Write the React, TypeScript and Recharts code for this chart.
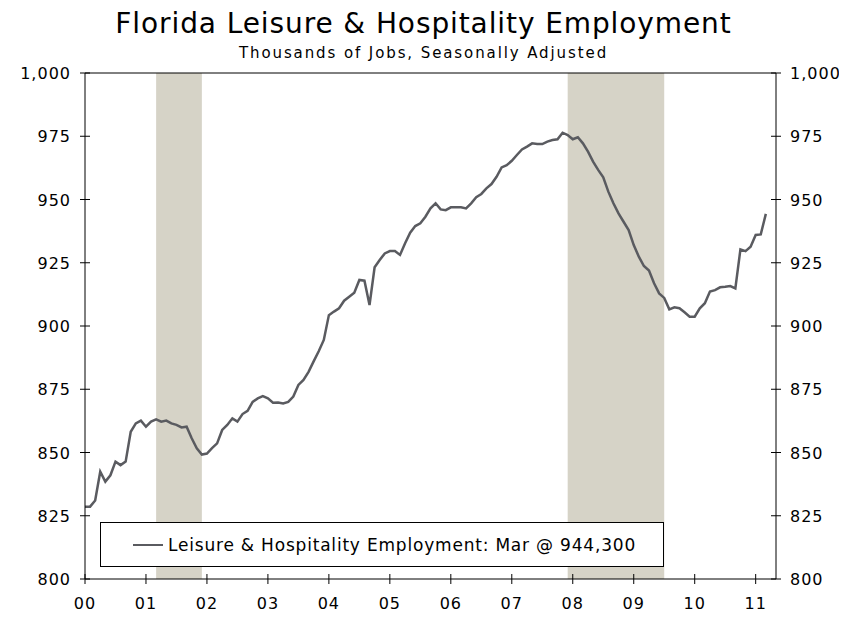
import { LineChart, Line, XAxis, YAxis, ReferenceArea, ReferenceLine } from "recharts";

// Monthly, Jan 2000 .. Mar 2011 (thousands of jobs, SA)
const START_YEAR = 2000;
const employment = [
  828.6, 828.6, 831.0, 842.4, 838.5, 841.0, 846.4, 845.0, 846.4, 858.2, 861.5, 862.6,
  860.2, 862.2, 863.1, 862.2, 862.6, 861.5, 860.9, 859.9, 860.2, 855.6, 851.7, 849.2,
  849.6, 851.7, 853.6, 858.9, 860.9, 863.5, 862.2, 865.2, 866.5, 870.0, 871.4, 872.3,
  871.4, 869.7, 869.8, 869.4, 870.0, 872.1, 876.7, 878.7, 881.9, 886.0, 890.0, 894.5,
  904.3, 905.7, 907.0, 910.0, 911.6, 913.2, 918.2, 917.9, 908.3, 923.2, 926.1, 928.7,
  929.6, 929.6, 928.1, 932.7, 936.9, 939.5, 940.6, 943.2, 946.5, 948.5, 946.1, 945.8,
  946.9, 946.9, 946.9, 946.5, 948.5, 950.9, 952.2, 954.4, 956.1, 959.0, 962.7, 963.6,
  965.3, 967.6, 969.8, 970.9, 972.2, 971.9, 971.9, 972.9, 973.5, 973.8, 976.4, 975.5,
  973.8, 974.6, 972.2, 968.9, 965.0, 961.7, 958.8, 953.1, 948.5, 944.5, 941.2, 937.9,
  932.0, 927.4, 923.7, 921.9, 916.9, 912.9, 911.1, 906.6, 907.4, 907.0, 905.4, 903.7,
  903.7, 907.0, 909.0, 913.6, 914.2, 915.3, 915.5, 915.8, 914.9, 930.3, 929.6, 931.3,
  936.0, 936.2, 944.3,
];

const yearLabels = ["00", "01", "02", "03", "04", "05", "06", "07", "08", "09", "10", "11"];
const yTicks = [800, 825, 850, 875, 900, 925, 950, 975, 1000];

// recessions as month indexes from Jan 2000 [start, end]
const recessionStart = [14, 95];
const recessionEnd = [23, 114];

const chartData = employment.map((value, i) => ({
  t: i,
  month: `${START_YEAR + Math.floor(i / 12)}-${String((i % 12) + 1).padStart(2, "0")}`,
  value,
}));

const FONT = "'DejaVu Sans', Verdana, sans-serif";
const LINE_COLOR = "#5a5b60";
const TICK_SIZE = 5;
const TICK_MARGIN = 9;

const fmtY = (v: number) => v.toLocaleString("en-US");

// ticks that cross the axis line, like the original
// eslint-disable-next-line @typescript-eslint/no-explicit-any
function LeftTick(props: any) {
  const { x, y, payload } = props;
  const outer = x + TICK_MARGIN;
  return (
    <g>
      <line x1={outer} x2={outer + 2 * TICK_SIZE} y1={y} y2={y} stroke="#000" />
      <text x={x} y={y} dy={6} textAnchor="end" fontSize={16} letterSpacing={1} fontFamily={FONT} fill="#000">
        {fmtY(payload.value)}
      </text>
    </g>
  );
}

// eslint-disable-next-line @typescript-eslint/no-explicit-any
function RightTick(props: any) {
  const { x, y, payload } = props;
  const outer = x - TICK_MARGIN;
  return (
    <g>
      <line x1={outer} x2={outer - 2 * TICK_SIZE} y1={y} y2={y} stroke="#000" />
      <text x={x} y={y} dy={6} textAnchor="start" fontSize={16} letterSpacing={1} fontFamily={FONT} fill="#000">
        {fmtY(payload.value)}
      </text>
    </g>
  );
}

// eslint-disable-next-line @typescript-eslint/no-explicit-any
function BottomTick(props: any) {
  const { x, y, payload } = props;
  const outer = y - TICK_MARGIN;
  return (
    <g>
      <line x1={x} x2={x} y1={outer} y2={outer - 2 * TICK_SIZE} stroke="#000" />
      <text x={x} y={y} dy={16} textAnchor="middle" fontSize={16} letterSpacing={1} fontFamily={FONT} fill="#000">
        {yearLabels[Math.round(payload.value / 12)]}
      </text>
    </g>
  );
}

export default function App() {
  const last = chartData[chartData.length - 1];
  return (
    <div style={{ position: "relative", width: 839, height: 604, fontFamily: FONT }}>
      <div
        style={{
          position: "absolute",
          left: 0,
          width: 831,
          top: 0,
          textAlign: "center",
          fontSize: 28,
          letterSpacing: 0.9,
          lineHeight: "32px",
          color: "#000",
        }}
      >
        Florida Leisure &amp; Hospitality Employment
      </div>
      <div
        style={{
          position: "absolute",
          left: 0,
          width: 831,
          top: 37,
          textAlign: "center",
          fontSize: 15,
          letterSpacing: 1.9,
          lineHeight: "17px",
          color: "#000",
        }}
      >
        Thousands of Jobs, Seasonally Adjusted
      </div>
      <LineChart
        width={839}
        height={604}
        data={chartData}
        margin={{ top: 65, right: 1, left: 0, bottom: 3 }}
      >
        {recessionStart.map((s, i) => (
          <ReferenceArea
            key={s}
            yAxisId="left"
            x1={s}
            x2={recessionEnd[i]}
            y1={800}
            y2={1000}
            fill="#d6d3c7"
            fillOpacity={1}
            stroke="none"
          />
        ))}
        <ReferenceLine yAxisId="left" y={1000} stroke="#000" />
        <XAxis
          dataKey="t"
          type="number"
          domain={[0, 136]}
          ticks={yearLabels.map((_, i) => i * 12)}
          interval={0}
          height={30}
          tickSize={TICK_SIZE}
          tickMargin={TICK_MARGIN}
          tickLine={false}
          tick={BottomTick}
          axisLine={{ stroke: "#000" }}
        />
        <YAxis
          yAxisId="left"
          orientation="left"
          domain={[800, 1000]}
          ticks={yTicks}
          interval={0}
          width={77}
          tickSize={TICK_SIZE}
          tickMargin={TICK_MARGIN}
          tickLine={false}
          tick={LeftTick}
          axisLine={{ stroke: "#000" }}
        />
        <YAxis
          yAxisId="right"
          orientation="right"
          domain={[800, 1000]}
          ticks={yTicks}
          interval={0}
          width={70}
          tickSize={TICK_SIZE}
          tickMargin={TICK_MARGIN}
          tickLine={false}
          tick={RightTick}
          axisLine={{ stroke: "#000" }}
        />
        {/* invisible copy so the right axis has a series and draws its ticks */}
        <Line
          yAxisId="right"
          type="linear"
          dataKey="value"
          stroke="none"
          dot={false}
          activeDot={false}
          isAnimationActive={false}
        />
        <Line
          yAxisId="left"
          type="linear"
          dataKey="value"
          stroke={LINE_COLOR}
          strokeWidth={2.5}
          dot={false}
          isAnimationActive={false}
        />
      </LineChart>
      {/* legend box sits over the recession shading */}
      <div
        style={{
          position: "absolute",
          left: 92,
          top: 514,
          width: 564,
          height: 45,
          boxSizing: "border-box",
          border: "1px solid #000",
          background: "#fff",
          display: "flex",
          alignItems: "center",
          fontSize: 17,
          letterSpacing: 0.8,
          color: "#000",
        }}
      >
        <span
          style={{ display: "inline-block", width: 30, height: 0, borderTop: `2.5px solid ${LINE_COLOR}`, marginLeft: 32, marginRight: 5 }}
        />
        <span>Leisure &amp; Hospitality Employment: Mar @ {Math.round(last.value * 1000).toLocaleString("en-US")}</span>
      </div>
    </div>
  );
}
